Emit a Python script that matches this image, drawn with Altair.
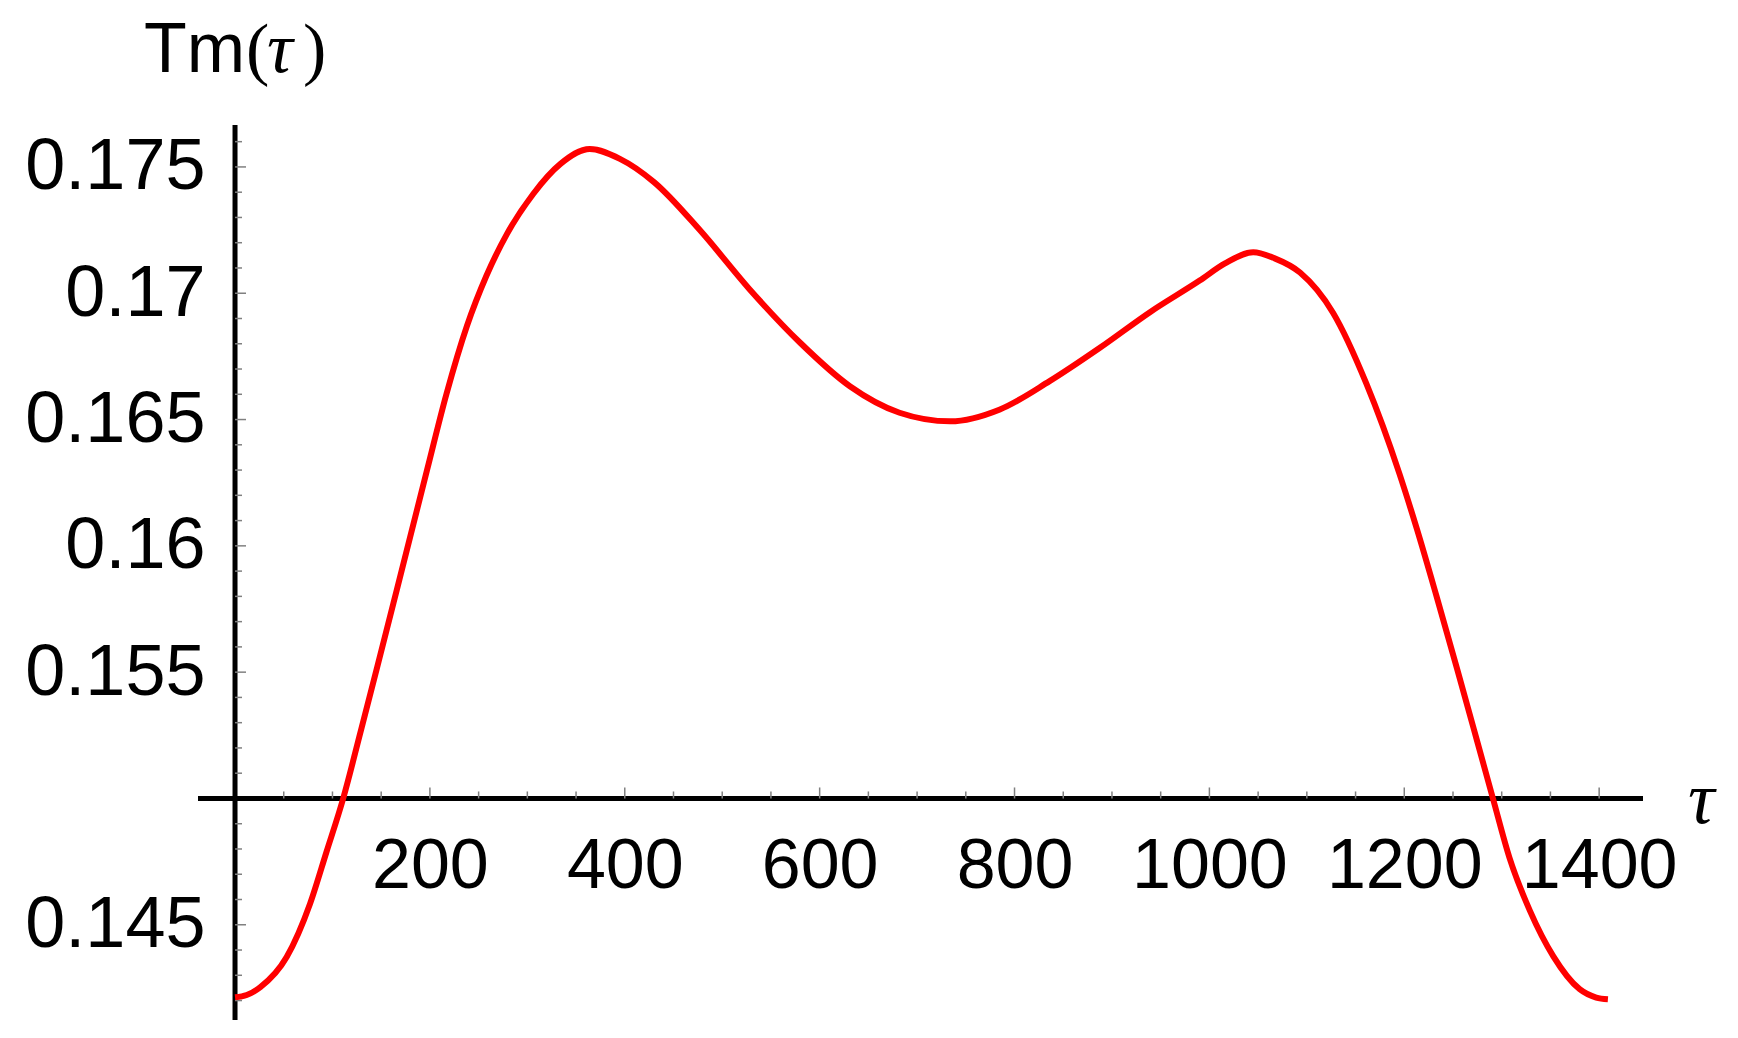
import pandas as pd
import altair as alt

# values
tau = [0, 12, 26, 53, 77, 94, 111, 129, 146, 166, 197, 217, 238, 258, 279, 306, 334,
       364, 395, 430, 477, 528, 580, 631, 682, 734, 785, 836, 888, 939, 990, 1016,
       1045, 1067, 1093, 1127, 1161, 1195, 1213, 1233, 1254, 1274, 1291, 1308, 1329,
       1353, 1380, 1397, 1409]
tm = [0.14213, 0.14222, 0.14253, 0.14372, 0.14583, 0.14790, 0.15000, 0.15266, 0.15521,
      0.15825, 0.16299, 0.16601, 0.16870, 0.17069, 0.17234, 0.17393, 0.17512,
      0.17571, 0.17532, 0.17440, 0.17250, 0.17016, 0.16804, 0.16632, 0.16527,
      0.16493, 0.16540, 0.16652, 0.16785, 0.16925, 0.17050, 0.17118, 0.17162,
      0.17138, 0.17082, 0.16922, 0.16643, 0.16286, 0.16066, 0.15802, 0.15516,
      0.15238, 0.15000, 0.14765, 0.14555, 0.14375, 0.14245, 0.14212, 0.14205]

x_labels = [200, 400, 600, 800, 1000, 1200, 1400]
y_labels = [0.145, 0.155, 0.16, 0.165, 0.17, 0.175]
x_minor = [50, 100, 150, 250, 300, 350, 450, 500, 550, 650, 700, 750, 850, 900,
           950, 1050, 1100, 1150, 1250, 1300, 1350]
y_minor = [0.142, 0.143, 0.144, 0.146, 0.147, 0.148, 0.149, 0.151, 0.152, 0.153,
           0.154, 0.156, 0.157, 0.158, 0.159, 0.161, 0.162, 0.163, 0.164, 0.166,
           0.167, 0.168, 0.169, 0.171, 0.172, 0.173, 0.174, 0.176]

x_range = [-38, 1445]
y_range = [0.14123, 0.17666]
x_cross = 0
y_cross = 0.15

W, H = 1445, 895
sans = "Liberation Sans"
serif = "Liberation Serif"

curve = pd.DataFrame({"tau": tau, "tm": tm})
x_ticks = pd.DataFrame({"v": x_labels})
y_ticks = pd.DataFrame({"v": y_labels})
x_small = pd.DataFrame({"v": x_minor})
y_small = pd.DataFrame({"v": y_minor})

xs = alt.Scale(domain=x_range, nice=False, zero=False)
ys = alt.Scale(domain=y_range, nice=False, zero=False)

# the curve carries the axis labels; axes sit where Mathematica puts them
line = alt.Chart(curve).mark_line(color="#ff0000", strokeWidth=6, interpolate="monotone").encode(
    x=alt.X("tau:Q", scale=xs, axis=alt.Axis(
        values=x_labels, format="d", title=None, domain=False, ticks=False, grid=False,
        tickSize=0, labelPadding=34, labelFontSize=70, labelFont=sans, labelColor="black",
        offset=-221.5, labelFlush=False, labelLimit=400)),
    y=alt.Y("tm:Q", scale=ys, axis=alt.Axis(
        values=y_labels, format=".3~f", title=None, domain=False, ticks=False, grid=False,
        tickSize=0, labelPadding=30, labelFontSize=72, labelFont=sans, labelColor="black",
        offset=-37, labelFlush=False, labelLimit=400)),
)

x_axis = alt.Chart().mark_rule(color="black", strokeWidth=5).encode(
    x=alt.datum(x_range[0], scale=xs), x2=alt.datum(x_range[1]), y=alt.datum(y_cross, scale=ys))
y_axis = alt.Chart().mark_rule(color="black", strokeWidth=5).encode(
    y=alt.datum(y_range[0], scale=ys), y2=alt.datum(y_range[1]), x=alt.datum(x_cross, scale=xs))

xt_major = alt.Chart(x_ticks).mark_rule(color="#808080", strokeWidth=1.5, y2Offset=-11).encode(
    x=alt.X("v:Q", scale=xs), y=alt.datum(y_cross, scale=ys), y2=alt.datum(y_cross))
xt_minor = alt.Chart(x_small).mark_rule(color="#808080", strokeWidth=1.5, y2Offset=-7).encode(
    x=alt.X("v:Q", scale=xs), y=alt.datum(y_cross, scale=ys), y2=alt.datum(y_cross))
yt_major = alt.Chart(y_ticks).mark_rule(color="#808080", strokeWidth=1.5, x2Offset=11).encode(
    y=alt.Y("v:Q", scale=ys), x=alt.datum(x_cross, scale=xs), x2=alt.datum(x_cross))
yt_minor = alt.Chart(y_small).mark_rule(color="#808080", strokeWidth=1.5, x2Offset=7).encode(
    y=alt.Y("v:Q", scale=ys), x=alt.datum(x_cross, scale=xs), x2=alt.datum(x_cross))

# axis names: "Tm(τ)" above the vertical axis, "τ" at the end of the horizontal one
tm_name = alt.Chart().mark_text(text="Tm", font=sans, fontSize=70, align="left",
                                baseline="alphabetic", dx=-91, color="black").encode(
    x=alt.datum(x_cross, scale=xs), y=alt.value(-53))
paren_l = alt.Chart().mark_text(text="(", font=serif, fontSize=70, align="left",
                                baseline="alphabetic", dx=11, color="black").encode(
    x=alt.datum(x_cross, scale=xs), y=alt.value(-53))
tau_top = alt.Chart().mark_text(text="τ", font=serif, fontStyle="italic", fontSize=72,
                                align="left", baseline="alphabetic", dx=32, color="black").encode(
    x=alt.datum(x_cross, scale=xs), y=alt.value(-53))
paren_r = alt.Chart().mark_text(text=")", font=serif, fontSize=70, align="left",
                                baseline="alphabetic", dx=68, color="black").encode(
    x=alt.datum(x_cross, scale=xs), y=alt.value(-53))
tau_name = alt.Chart().mark_text(text="τ", font=serif, fontStyle="italic", fontSize=74,
                                 align="left", baseline="alphabetic", dx=45, dy=25,
                                 color="black").encode(
    x=alt.datum(x_range[1], scale=xs), y=alt.datum(y_cross, scale=ys))

chart = alt.layer(
    x_axis, y_axis, xt_minor, xt_major, yt_minor, yt_major, line,
    tm_name, paren_l, tau_top, paren_r, tau_name,
).properties(
    width=W, height=H,
    autosize=alt.AutoSizeParams(type="none"),
    padding={"left": 190, "top": 117, "right": 87, "bottom": 10},
    background="white",
).configure_view(stroke=None)

chart.save("out.html", embed_options={"renderer": "svg", "actions": False})
